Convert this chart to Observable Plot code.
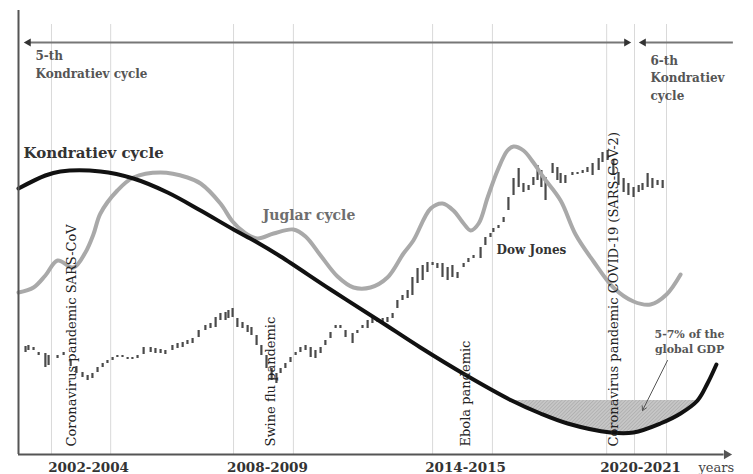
<!DOCTYPE html>
<html>
<head>
<meta charset="utf-8">
<script src="https://cdn.jsdelivr.net/npm/d3@7"></script>
<script src="https://cdn.jsdelivr.net/npm/@observablehq/plot@0.6"></script>
<style>
  html, body { margin: 0; padding: 0; background: #fff; }
  #chart svg { display: block; }
</style>
</head>
<body>
<div id="chart"></div>
<script>
// ---- Data (x in decimal years on a conceptual time axis, y in an arbitrary index) ----
const kondYear  = [2001.0,2001.84,2002.31,2003.56,2004.59,2005.66,2006.69,2007.72,2008.41,2009.19,2010.75,2012.31,2013.56,2015.0,2016.41,2017.31,2018.16,2019.5,2020.22,2021.06,2021.69,2022.22,2022.53,2022.81];
const kondValue = [66.5,69.75,70.75,70.75,69,65.5,61,56.25,53.25,49.5,41.25,33.25,26.75,19.75,13.5,10.25,7.75,5.5,5.5,7.75,10.25,13.5,17.75,22.5];

const juglarYear  = [2001.0,2001.47,2001.84,2002.22,2002.72,2003.09,2003.34,2003.56,2004.09,2004.59,2005.44,2006.28,2006.69,2007.31,2007.69,2008.06,2008.47,2008.97,2009.59,2009.97,2010.44,2010.97,2011.47,2012.0,2012.53,2013.03,2013.34,2013.88,2014.25,2014.59,2014.91,2015.13,2015.38,2015.66,2015.97,2016.28,2016.47,2016.78,2017.09,2017.41,2017.94,2018.41,2018.97,2019.59,2020.22,2020.75,2021.25,2021.69];
const juglarValue = [40.5,41.75,44.75,48.5,46.75,50.5,55,60.25,66,69.25,70.5,69.25,67.75,62.75,58.25,55.5,54,55.25,56.25,54.5,49.75,44.5,41.75,41.75,44.25,50.25,53.5,61.5,62.75,61,57.75,56,57.75,64.25,71,76,77,76,73,69.25,63.5,55,48.25,41.75,38.25,37.5,40,45];

const dowYear = [2001.22,2001.31,2001.47,2001.63,2001.84,2001.94,2002.22,2002.41,2002.63,2002.81,
 2003.0,2003.16,2003.31,2003.47,2003.63,2003.78,2003.94,2004.09,2004.25,2004.41,
 2004.56,2004.72,2004.91,2005.13,2005.28,2005.44,2005.59,2005.81,2005.97,2006.13,
 2006.28,2006.44,2006.63,2006.84,2007.0,2007.16,2007.31,2007.47,2007.56,2007.69,
 2007.84,2008.0,2008.16,2008.28,2008.44,2008.59,2008.75,2008.91,2009.06,2009.19,
 2009.34,2009.5,2009.66,2009.81,2009.97,2010.13,2010.28,2010.44,2010.59,2010.75,
 2010.91,2011.06,2011.22,2011.44,2011.59,2011.75,2011.91,2012.06,2012.22,2012.38,
 2012.53,2012.69,2012.84,2013.0,2013.16,2013.31,2013.47,2013.63,2013.78,2013.94,
 2014.09,2014.25,2014.41,2014.56,2014.72,2014.91,2015.06,2015.22,2015.44,2015.59,
 2015.75,2015.84,2016.0,2016.16,2016.31,2016.47,2016.63,2016.78,2016.94,2017.09,
 2017.22,2017.34,2017.47,2017.69,2017.84,2017.94,2018.09,2018.31,2018.47,2018.63,
 2018.78,2018.94,2019.13,2019.25,2019.41,2019.59,2019.75,2019.91,2020.06,2020.22,
 2020.38,2020.5,2020.66,2020.81,2020.97,2021.13];
const dowHigh = [27,27.25,26.75,25.5,25.25,24.75,24.75,25.5,23.5,22,
 20.5,19.75,20.25,21.75,22.75,23.5,24.25,24.75,24.75,24.25,
 24.25,24.75,26.75,26.75,26.5,26.25,26,27.25,27.75,28,
 28.5,29,31,32.25,32.75,34.25,35.25,35.5,36,36.5,
 34,33,32.25,31.75,29.75,27.25,24.75,21.5,20.25,21.5,
 22.75,24.25,25.5,26.75,27.25,26.75,26,26.75,28.5,30.5,
 32.25,32.25,31,30.25,31,32.25,33.5,34.25,34,34,
 34.25,35.25,38.5,39.75,41,44.25,46.5,47.25,48,48,
 47.75,47.75,46.75,47.25,45.5,47.75,49,49.75,51.75,54.25,
 55.25,56.5,57.25,59.25,64.25,69,71.5,67.75,67.25,69.25,
 72.25,71,69.25,72.75,71.75,70.25,69.75,70.5,70.5,71,
 71.75,72.75,74,75.5,76,73.5,70.5,69,67.75,66.75,
 67.25,67.75,70.25,69,68.5,68.5];
const dowLow = [25.5,26,26,24.75,21.75,22.25,24,24.75,22,20.25,
 19.25,18.5,19,20.5,21.75,22.75,23.5,24.25,24.25,23.75,
 23.75,24,25,25.5,25.25,25.25,25,26,26.5,26.75,
 27.5,27.75,29.25,31,31.5,31.75,33.5,33.5,34,34.25,
 31.75,31.5,30.5,29.75,27.25,24.75,21.5,18.5,17.75,20.25,
 21.5,23,24.75,25.5,26,24.25,24,25.25,27.25,29,
 31.5,31.5,29.25,27.75,30.25,31.5,31.5,32.75,33,33,
 33,34,36.5,38.5,39,39.75,42.75,43.5,45.5,47.25,
 46.5,44.25,43.5,44.25,44,46.75,48,49,49,52.25,
 54.25,55.5,56.5,58,61,64.75,66.75,65.5,66,67.25,
 68.5,66.75,63.5,70.25,68.5,67.75,67.75,69.75,70,70.25,
 70.5,69.75,71,73,73.5,69.75,67.25,65.5,64.75,64.25,
 65.5,66,66.75,66.5,67.25,66.5];

const gridYears = [2002.03,2003.88,2007.72,2009.59,2013.94,2015.81,2019.38,2020.25,2021.25];

const periodLabels = ["2002-2004","2008-2009","2014-2015","2020-2021"];
const periodYears  = [2003.19,2008.78,2014.97,2020.44];

const pandemicLabels = ["Coronavirus pandemic SARS-CoV","Swine flu pandemic","Ebola pandemic","Coronavirus pandemic COVID-19 (SARS-CoV-2)"];
const pandemicYears  = [2002.66,2008.88,2014.97,2019.59];

const gdpLevel = 13.5;           // level of the shaded GDP-loss region
const gdpFrom = 2016.41, gdpTo = 2022.22;
const gdpArrow = [{x1: 2021.28, y1: 23.5, x2: 2020.5, y2: 11}];

const cycleArrowY = 103;
const fifthCycle = [2001.31, 2020.0];
const sixthCycle = [2020.53, 2023.34];

// ---- Build tables ----
const kond = kondYear.map((x, i) => ({x, y: kondValue[i]}));
const juglar = juglarYear.map((x, i) => ({x, y: juglarValue[i]}));
const dow = dowYear.map((x, i) => ({x, lo: dowLow[i], hi: dowHigh[i]}));
const gdpArea = kond.filter(d => d.x >= gdpFrom - 1e-9 && d.x <= gdpTo + 1e-9);
const periods = periodLabels.map((t, i) => ({t, x: periodYears[i]}));
const pandemics = pandemicLabels.map((t, i) => ({t, x: pandemicYears[i]}));

const serif = "DejaVu Serif";

const svg = Plot.plot({
  width: 753,
  height: 474,
  marginLeft: 18,
  marginRight: 31,
  marginTop: 10,
  marginBottom: 20,
  x: {domain: [2001, 2023], axis: null},
  y: {domain: [0, 111], axis: null},
  style: {fontFamily: serif, background: "#fff"},
  marks: [
    // gridlines
    Plot.ruleX(gridYears, {y1: 0, y2: 107.5, stroke: "#d9d9d9", strokeWidth: 1}),
    // shaded GDP loss
    Plot.areaY(gdpArea, {x: "x", y1: "y", y2: gdpLevel, curve: "catmull-rom", fill: "url(#hatch)"}),
    // Dow Jones candles
    Plot.ruleX(dow, {x: "x", y1: "lo", y2: "hi", stroke: "#4a4a4a", strokeWidth: 2.2}),
    // Juglar cycle
    Plot.line(juglar, {x: "x", y: "y", curve: "catmull-rom", stroke: "#a9a9a9", strokeWidth: 4}),
    // Kondratiev cycle
    Plot.line(kond, {x: "x", y: "y", curve: "catmull-rom", stroke: "#111", strokeWidth: 4}),
    // axes
    Plot.ruleX([2001], {y1: 0, y2: 111, stroke: "#555", strokeWidth: 2}),
    Plot.ruleY([0], {x1: 2001, x2: 2023.05, stroke: "#555", strokeWidth: 2}),
    Plot.dot([2023.13], {x: d => d, y: 0, symbol: "triangle", rotate: 90, r: 3.5, fill: "#555"}),
    // cycle arrows at top
    Plot.ruleY([cycleArrowY], {x1: fifthCycle[0], x2: fifthCycle[1], stroke: "#777", strokeWidth: 2}),
    Plot.ruleY([cycleArrowY], {x1: sixthCycle[0], x2: sixthCycle[1], stroke: "#777", strokeWidth: 2}),
    Plot.dot([{x: fifthCycle[0], r: -90}, {x: fifthCycle[1], r: 90}, {x: sixthCycle[0], r: -90}],
      {x: "x", y: cycleArrowY, symbol: "triangle", rotate: "r", r: 3, fill: "#333"}),
    Plot.text(["5-th\nKondratiev cycle"], {x: 2001.53, y: 101.75, text: d => d, textAnchor: "start", lineAnchor: "top",
      fontWeight: "bold", fontSize: 12, lineHeight: 1.5, fill: "#555"}),
    Plot.text(["6-th\nKondratiev\ncycle"], {x: 2020.75, y: 100.5, text: d => d, textAnchor: "start", lineAnchor: "top",
      fontWeight: "bold", fontSize: 12, lineHeight: 1.45, fill: "#555"}),
    // series labels
    Plot.text(["Kondratiev cycle"], {x: 2001.16, y: 75.25, text: d => d, textAnchor: "start", fontWeight: "bold", fontSize: 15, fill: "#333"}),
    Plot.text(["Juglar cycle"], {x: 2008.63, y: 59.75, text: d => d, textAnchor: "start", fontWeight: "bold", fontSize: 14, fill: "#6e6e6e"}),
    Plot.text(["Dow Jones"], {x: 2015.94, y: 51, text: d => d, textAnchor: "start", fontWeight: "bold", fontSize: 12, fill: "#333"}),
    // pandemic labels
    Plot.text(pandemics, {x: "x", y: 2, text: "t", rotate: -90, textAnchor: "start", fontSize: 13, fill: "#222"}),
    // GDP annotation
    Plot.arrow(gdpArrow, {x1: "x1", y1: "y1", x2: "x2", y2: "y2", stroke: "#555", strokeWidth: 1, headLength: 7}),
    Plot.text(["5-7% of the\nglobal GDP"], {x: 2021.97, y: 31.75, text: d => d, lineAnchor: "top", fontWeight: "bold", fontSize: 11, lineHeight: 1.35, fill: "#555"}),
    // period labels
    Plot.text(periods, {x: "x", y: -3.25, text: "t", fontWeight: "bold", fontSize: 13.5, fill: "#333"}),
    Plot.text(["years"], {x: 2022.25, y: -3.25, text: d => d, textAnchor: "start", fontSize: 13, fill: "#444"})
  ]
});

// hatch pattern for the shaded area
const defs = d3.select(svg).insert("defs", ":first-child");
const pat = defs.append("pattern").attr("id", "hatch").attr("width", 2.5).attr("height", 2.5)
  .attr("patternUnits", "userSpaceOnUse").attr("patternTransform", "rotate(45)");
pat.append("rect").attr("width", 2.5).attr("height", 2.5).attr("fill", "#c6c6c6");
pat.append("line").attr("x1", 0).attr("y1", 0).attr("x2", 0).attr("y2", 2.5).attr("stroke", "#a2a2a2").attr("stroke-width", 1);

document.getElementById("chart").appendChild(svg);
</script>
</body>
</html>
